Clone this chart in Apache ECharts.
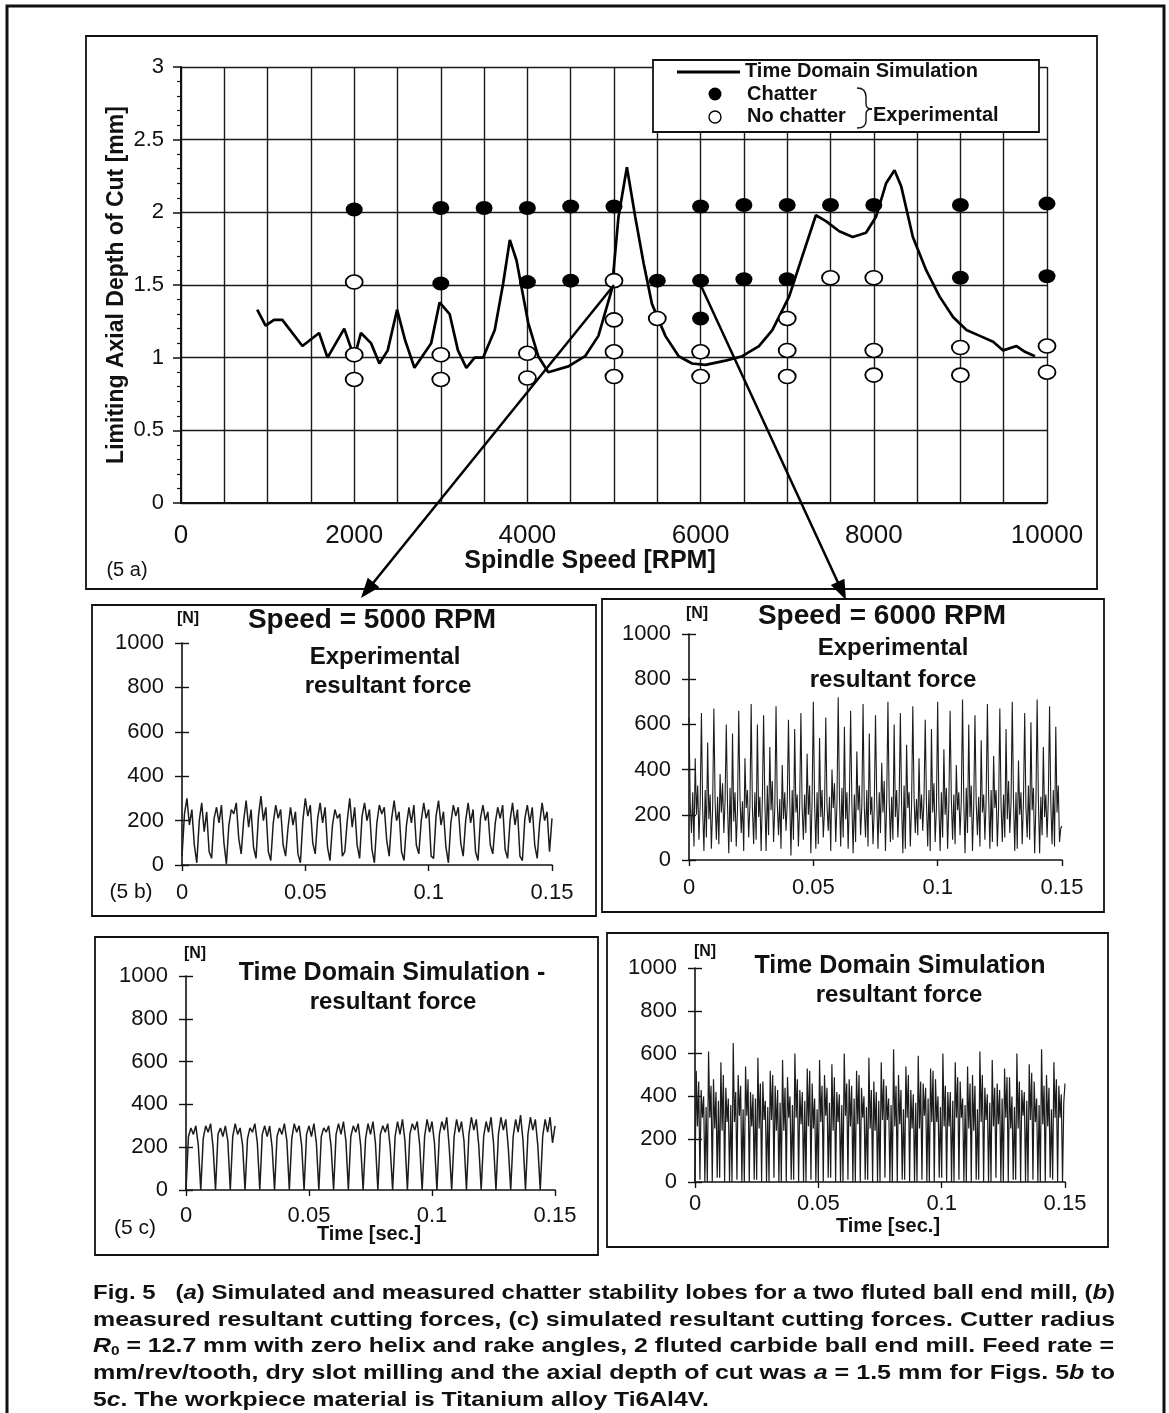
<!DOCTYPE html>
<html><head><meta charset="utf-8">
<script src="https://cdn.jsdelivr.net/npm/echarts@6/dist/echarts.min.js"></script>
<style>html,body{margin:0;padding:0;background:#fff}#c{width:1169px;height:1413px}</style>
</head><body><div id="c"></div>
<script>
// ---------- Fig 5a data ----------
const simRpm = [880, 977, 1074, 1170, 1402, 1595, 1692, 1885, 2001, 2078, 2194, 2291, 2387, 2495, 2588, 2696, 2889, 2986, 3102, 3198, 3295, 3391, 3488, 3623, 3720, 3797, 3874, 4009, 4125, 4241, 4473, 4666, 4820, 4975, 5052, 5149, 5245, 5342, 5438, 5593, 5747, 5902, 6056, 6288, 6481, 6674, 6828, 7022, 7176, 7331, 7447, 7601, 7756, 7910, 8026, 8142, 8239, 8316, 8451, 8606, 8760, 8915, 9070, 9224, 9378, 9494, 9649, 9745, 9861];
const simDepth = [1.33, 1.22, 1.26, 1.26, 1.08, 1.17, 1.00, 1.20, 1.00, 1.17, 1.10, 0.96, 1.05, 1.33, 1.12, 0.93, 1.10, 1.38, 1.30, 1.05, 0.93, 1.00, 1.00, 1.19, 1.51, 1.81, 1.67, 1.24, 1.01, 0.90, 0.94, 1.01, 1.15, 1.47, 1.97, 2.31, 1.97, 1.65, 1.37, 1.15, 1.01, 0.96, 0.95, 0.98, 1.01, 1.08, 1.19, 1.42, 1.70, 1.98, 1.94, 1.87, 1.83, 1.86, 1.97, 2.20, 2.29, 2.18, 1.83, 1.60, 1.42, 1.28, 1.19, 1.15, 1.11, 1.05, 1.08, 1.04, 1.01];
const chatterRpm = [2000, 3000, 3500, 4000, 4500, 5000, 6000, 6500, 7000, 7500, 8000, 9000, 10000, 3000, 4000, 4500, 5500, 6000, 6500, 7000, 9000, 10000, 6000];
const chatterDepth = [2.02, 2.03, 2.03, 2.03, 2.04, 2.04, 2.04, 2.05, 2.05, 2.05, 2.05, 2.05, 2.06, 1.51, 1.52, 1.53, 1.53, 1.53, 1.54, 1.54, 1.55, 1.56, 1.27];
const noChatterRpm = [2000, 2000, 2000, 3000, 3000, 4000, 4000, 5000, 5000, 5000, 5000, 5500, 6000, 6000, 7000, 7000, 7000, 7500, 8000, 8000, 8000, 9000, 9000, 10000, 10000];
const noChatterDepth = [1.52, 1.02, 0.85, 1.02, 0.85, 1.03, 0.86, 1.53, 1.26, 1.04, 0.87, 1.27, 1.04, 0.87, 1.27, 1.05, 0.87, 1.55, 1.55, 1.05, 0.88, 1.07, 0.88, 1.08, 0.90];
const xTickLabels5a = [0, 2000, 4000, 6000, 8000, 10000];

// ---------- Fig 5b / 5c force signals ----------
const DT_5000 = 0.001;   // 5000 RPM records, sampled every 1 ms
const DT_6000 = 0.0005;  // 6000 RPM records, sampled every 0.5 ms
const force5000Exp = [40,230,300,180,250,90, 10,200,280,150,240,60, 30,210,260,190,270,100, 5,180,250,230,280,120, 50,200,290,170,250,80, 30,220,310,200,260,60, 20,190,270,210,250,90, 40,170,260,180,240,50, 10,200,300,220,270,100, 50,210,280,190,260,80, 20,180,250,210,230,40, 60,200,300,170,260,90, 30,220,280,200,250,70, 10,190,270,230,260,110, 40,210,290,200,240,60, 20,180,260,190,270,90, 50,200,280,210,250,40, 30,220,290,180,240,80, 10,190,270,220,260,100, 40,200,280,190,250,60, 20,210,270,200,240,90, 50,190,260,210,270,70, 30,200,280,180,250,40, 20,210,270,190,260,90, 30,190,280,200,240,60, 210];
const force5000Sim = [0,250,290,260,300,210, 0,240,300,270,310,200, 0,260,290,250,300,230, 0,250,310,260,290,210, 0,240,290,270,310,220, 0,260,300,250,300,200, 0,250,290,260,310,230, 0,240,310,270,300,210, 0,260,300,250,310,220, 0,250,290,270,300,200, 0,260,310,260,320,230, 0,250,300,270,310,210, 0,240,310,260,320,220, 0,260,300,270,310,200, 0,250,320,260,330,230, 0,260,310,280,320,210, 0,250,330,270,320,220, 0,260,320,280,340,200, 0,250,330,270,320,230, 0,260,340,280,330,210, 0,250,320,270,340,220, 0,260,340,280,330,200, 0,250,330,270,350,230, 0,260,340,280,330,210, 0,250,330,270,340,220, 300];
const force6000Exp = [
  630,250,120,300,60,450,200,330,90,250, 650,220,40,310,100,520,180,290,50,230,
  670,260,90,280,70,380,210,340,120,260, 600,240,30,320,80,560,170,300,60,220,
  660,280,120,260,40,450,230,310,100,240, 690,230,70,300,90,600,190,280,40,270,
  640,260,40,330,110,500,220,350,80,230, 680,250,110,270,50,420,180,300,130,250,
  620,270,20,310,90,580,210,290,60,240, 650,230,90,290,120,470,200,330,30,260,
  700,260,50,300,70,540,190,310,100,220, 630,240,130,280,40,400,230,340,80,250,
  720,280,60,320,100,590,180,300,50,270, 660,250,30,290,80,480,220,330,110,240,
  690,230,100,310,60,560,200,280,70,230, 640,270,50,300,120,430,210,350,40,260,
  700,260,80,280,90,600,190,310,100,250, 650,240,30,330,50,510,230,300,60,240,
  680,280,120,270,110,450,180,290,130,270, 620,250,60,310,40,580,210,340,80,230,
  700,230,40,300,100,490,200,320,50,250, 660,270,90,290,70,420,220,300,110,260,
  710,260,30,320,120,600,190,330,40,240, 640,250,110,280,60,530,210,290,90,270,
  690,280,50,310,80,460,230,310,60,230, 670,240,80,290,100,580,180,350,120,250,
  700,260,40,300,50,440,200,300,70,260, 650,230,100,330,90,610,220,320,30,240,
  710,270,30,280,110,500,190,290,100,270, 680,250,70,310,60,590,210,330,80,140, 150];
const force6000Sim = [
  0,520,260,470,10,430,300,400,0,350, 0,610,300,450,0,480,250,420,20,380,
  20,560,240,500,0,440,280,390,0,360, 0,650,280,420,10,500,310,450,0,340,
  0,540,310,480,0,420,260,410,10,390, 10,580,250,460,0,470,290,380,0,350,
  0,520,290,500,20,450,240,430,0,370, 0,570,240,440,0,490,300,400,10,360,
  10,600,300,480,0,430,270,420,0,380, 0,530,260,520,10,460,250,390,0,340,
  0,570,280,450,0,500,310,440,20,370, 20,550,240,490,0,420,280,410,0,360,
  0,600,310,460,10,480,260,450,0,390, 0,520,270,500,0,440,300,400,10,350,
  10,580,250,430,0,470,240,420,0,380, 0,560,290,480,20,450,290,390,0,360,
  0,620,260,450,0,500,270,430,10,340, 10,540,300,500,0,430,250,410,0,370,
  0,590,250,470,10,460,310,440,0,390, 0,530,280,520,0,480,280,400,20,350,
  20,600,260,450,0,420,260,420,0,380, 0,560,300,490,10,470,300,390,0,360,
  0,540,250,460,0,500,240,450,10,340, 10,610,280,500,0,440,290,410,0,370,
  0,570,260,440,20,460,270,430,0,390, 0,530,300,490,0,490,250,400,10,350,
  10,600,250,470,0,430,310,420,0,380, 0,550,290,510,10,470,280,390,0,360,
  0,620,270,450,0,500,260,440,20,340, 10,560,300,480,0,450,300,410,0,370, 460];
const forceTicks = [0, 200, 400, 600, 800, 1000];
const timeTicks = [0, 0.05, 0.1, 0.15];

// ---------- build ----------
const FONT = 'Liberation Sans, Arial, Helvetica, sans-serif';
const INK = '#111';
const zip = (xs, ys) => xs.map((x, i) => [x, ys[i]]);
const timed = (vals, dt) => vals.map((v, i) => [+(i * dt).toFixed(5), v]);

const grids = [
  {left: 181, top: 67, width: 866, height: 436},
  {left: 182, top: 643, width: 370, height: 222},
  {left: 689, top: 634, width: 373, height: 226},
  {left: 186, top: 976, width: 369, height: 214},
  {left: 695, top: 968, width: 370, height: 214}
].map(g => Object.assign({containLabel: false, outerBoundsMode: 'none', show: false}, g));

const xAxes = [{
  gridIndex: 0, type: 'value', min: 0, max: 10000, interval: 500,
  axisLine: {show: true, onZero: false, lineStyle: {color: INK, width: 2}},
  axisTick: {show: false},
  splitLine: {show: true, lineStyle: {color: '#1a1a1a', width: 1.4}},
  axisLabel: {color: INK, fontSize: 26, fontFamily: FONT, margin: 20,
    formatter: v => xTickLabels5a.includes(v) ? String(v) : ''}
}];
const yAxes = [{
  gridIndex: 0, type: 'value', min: 0, max: 3, interval: 0.5,
  axisLine: {show: true, onZero: false, lineStyle: {color: INK, width: 2}},
  axisTick: {show: true, length: 8, lineStyle: {color: INK, width: 1.5}},
  minorTick: {show: true, splitNumber: 5, length: 4, lineStyle: {color: INK, width: 1.2}},
  splitLine: {show: true, lineStyle: {color: '#1a1a1a', width: 1.4}},
  axisLabel: {color: INK, fontSize: 22, fontFamily: FONT, margin: 17}
}];
const xLabelMargin = [17, 17, 15, 11];
function subAxes(gi) {
  xAxes.push({
    gridIndex: gi, type: 'value', min: 0, max: 0.15, interval: 0.05,
    axisLine: {show: true, onZero: false, lineStyle: {color: INK, width: 1.6}},
    axisTick: {show: true, length: 6, lineStyle: {color: INK, width: 1.4}},
    splitLine: {show: false},
    axisLabel: {color: INK, fontSize: 22, fontFamily: FONT, margin: xLabelMargin[gi - 1],
      formatter: v => { const r = Math.round(v * 100) / 100; return timeTicks.includes(r) ? String(r) : ''; }}
  });
  yAxes.push({
    gridIndex: gi, type: 'value', min: 0, max: 1000, interval: 200, position: 'left',
    axisLine: {show: true, onZero: false, lineStyle: {color: INK, width: 1.6}},
    axisTick: {show: true, length: 7, lineStyle: {color: INK, width: 1.4}},
    splitLine: {show: false},
    axisLabel: {color: INK, fontSize: 22, fontFamily: FONT, margin: 18,
      formatter: v => forceTicks.includes(v) ? String(v) : ''}
  });
  yAxes.push({
    gridIndex: gi, type: 'value', min: 0, max: 1000, interval: 200, position: 'left', offset: 0,
    axisLine: {show: false}, axisLabel: {show: false}, splitLine: {show: false},
    axisTick: {show: true, inside: true, length: 7, lineStyle: {color: INK, width: 1.4}}
  });
}
[1, 2, 3, 4].forEach(subAxes);

const series = [
  {type: 'line', xAxisIndex: 0, yAxisIndex: 0, data: zip(simRpm, simDepth), showSymbol: false, symbol: 'none',
   lineStyle: {color: '#000', width: 2.7}, z: 3, silent: true, animation: false},
  {type: 'scatter', xAxisIndex: 0, yAxisIndex: 0, data: zip(chatterRpm, chatterDepth), symbol: 'circle', symbolSize: [17, 14],
   itemStyle: {color: '#000', opacity: 1}, z: 4, animation: false},
  {type: 'scatter', xAxisIndex: 0, yAxisIndex: 0, data: zip(noChatterRpm, noChatterDepth), symbol: 'circle', symbolSize: [17, 14],
   itemStyle: {color: '#fff', borderColor: '#000', borderWidth: 1.7, opacity: 1}, z: 4, animation: false}
];
const sigs = [[force5000Exp, DT_5000, 1.5], [force6000Exp, DT_6000, 1.1], [force5000Sim, DT_5000, 1.5], [force6000Sim, DT_6000, 1.2]];
sigs.forEach(([s, dt, w], k) => series.push({
  type: 'line', xAxisIndex: k + 1, yAxisIndex: 1 + k * 2, data: timed(s, dt), showSymbol: false, symbol: 'none',
  lineStyle: {color: '#1c1c1c', width: w}, silent: true, animation: false
}));

// ---------- graphic (frames, titles, legend, caption) ----------
function txt(text, x, y, size, weight, align, extra) {
  return {type: 'text', z: 50, style: Object.assign({
    text, x, y, fontSize: size, fontWeight: weight || 'normal', fontFamily: FONT, fill: INK,
    textAlign: align || 'center', align: align || 'center', textVerticalAlign: 'middle', verticalAlign: 'middle'
  }, extra || {})};
}
function box(x1, y1, x2, y2, w) {
  return {type: 'rect', z: 40, shape: {x: x1, y: y1, width: x2 - x1, height: y2 - y1},
    style: {fill: null, stroke: '#111', lineWidth: w || 2}};
}
function curve(x1, y1, cx, cy, x2, y2) {
  return {type: 'bezierCurve', z: 46, shape: {x1, y1, cpx1: cx, cpy1: cy, x2, y2},
    style: {fill: null, stroke: '#111', lineWidth: 1.4}};
}
const yTitle = txt('Limiting Axial Depth of Cut [mm]', 0, 0, 23, 'bold');
yTitle.x = 117; yTitle.y = 285; yTitle.rotation = Math.PI / 2;

const graphic = [
  box(7, 6, 1164, 1425, 3),
  box(86, 36, 1097, 589, 1.8),
  box(92, 605, 596, 916, 1.8),
  box(602, 599, 1104, 912, 1.8),
  box(95, 937, 598, 1255, 1.8),
  box(607, 933, 1108, 1247, 1.8),
  yTitle,
  txt('Spindle Speed [RPM]', 590, 561, 25, 'bold'),
  txt('(5 a)', 127, 570, 20, 'normal'),
  // legend
  {type: 'rect', z: 45, shape: {x: 653, y: 60, width: 386, height: 72}, style: {fill: '#fff', stroke: '#111', lineWidth: 1.8}},
  {type: 'line', z: 46, shape: {x1: 677, y1: 72, x2: 740, y2: 72}, style: {stroke: '#000', lineWidth: 3.2}},
  txt('Time Domain Simulation', 745, 71, 20, 'bold', 'left'),
  {type: 'circle', z: 46, shape: {cx: 715, cy: 94, r: 6.5}, style: {fill: '#000'}},
  txt('Chatter', 747, 94, 20, 'bold', 'left'),
  {type: 'circle', z: 46, shape: {cx: 715, cy: 117, r: 6}, style: {fill: '#fff', stroke: '#000', lineWidth: 1.4}},
  txt('No chatter', 747, 116, 20, 'bold', 'left'),
  curve(857, 88, 866, 88, 866, 97),
  {type: 'line', z: 46, shape: {x1: 866, y1: 97, x2: 866, y2: 104}, style: {stroke: '#111', lineWidth: 1.4}},
  curve(866, 104, 866, 109, 872, 109),
  curve(872, 109, 866, 109, 866, 114),
  {type: 'line', z: 46, shape: {x1: 866, y1: 114, x2: 866, y2: 121}, style: {stroke: '#111', lineWidth: 1.4}},
  curve(866, 121, 866, 128, 857, 128),
  txt('Experimental', 873, 115, 20, 'bold', 'left'),
  // 5b left
  txt('[N]', 188, 619, 16, 'bold'),
  txt('Speed = 5000 RPM', 372, 620, 28, 'bold'),
  txt('Experimental', 385, 657, 24, 'bold'),
  txt('resultant force', 388, 686, 24, 'bold'),
  txt('(5 b)', 131, 892, 21, 'normal'),
  // 5b right
  txt('[N]', 697, 614, 16, 'bold'),
  txt('Speed = 6000 RPM', 882, 616, 28, 'bold'),
  txt('Experimental', 893, 648, 24, 'bold'),
  txt('resultant force', 893, 680, 24, 'bold'),
  // 5c left
  txt('[N]', 195, 954, 16, 'bold'),
  txt('Time Domain Simulation -', 392, 973, 25, 'bold'),
  txt('resultant force', 393, 1002, 24, 'bold'),
  txt('(5 c)', 135, 1228, 21, 'normal'),
  txt('Time [sec.]', 369, 1234, 20, 'bold'),
  // 5c right
  txt('[N]', 705, 952, 16, 'bold'),
  txt('Time Domain Simulation', 900, 966, 25, 'bold'),
  txt('resultant force', 899, 995, 24, 'bold'),
  txt('Time [sec.]', 888, 1226, 20, 'bold')
];

// caption (each full line stretched to the justified column width)
const CAP_SIZE = 21, CAP_LEFT = 93, CAP_WIDTH = 1022;
const capRich = {
  i: {fontStyle: 'italic', fontWeight: 'bold', fontSize: CAP_SIZE, fontFamily: FONT, color: INK},
  sub: {fontWeight: 'bold', fontSize: 13, fontFamily: FONT, color: INK, padding: [9, 0, 0, 0]}
};
const captionLines = [
  'Fig. 5   ({i|a}) Simulated and measured chatter stability lobes for a two fluted ball end mill, ({i|b})',
  'measured resultant cutting forces, (c) simulated resultant cutting forces. Cutter radius',
  '{i|R}{sub|0} = 12.7 mm with zero helix and rake angles, 2 fluted carbide ball end mill. Feed rate =',
  'mm/rev/tooth, dry slot milling and the axial depth of cut was {i|a} = 1.5 mm for Figs. 5{i|b} to',
  '5{i|c}. The workpiece material is Titanium alloy Ti6Al4V.'
];
const mctx = document.createElement('canvas').getContext('2d');
mctx.font = 'bold ' + CAP_SIZE + 'px ' + FONT;
const plain = l => l.replace(/\{sub\|0\}/, '').replace(/\{\w+\|([^}]*)\}/g, '$1');
const scales = captionLines.map(l => CAP_WIDTH / (mctx.measureText(plain(l)).width + (l.includes('{sub|') ? 8 : 0)));
const avgScale = (scales[0] + scales[1] + scales[2] + scales[3]) / 4;
captionLines.forEach((l, k) => {
  const el = txt(l, 0, 0, CAP_SIZE, 'bold', 'left', {rich: capRich});
  el.x = CAP_LEFT; el.y = 1293 + k * 26.8;
  el.scaleX = k < 4 ? scales[k] : avgScale;
  graphic.push(el);
});

const chart = echarts.init(document.getElementById('c'), null, {renderer: 'canvas'});
chart.setOption({animation: false, backgroundColor: '#fff', grid: grids, xAxis: xAxes, yAxis: yAxes, series, graphic});

// arrows from the 5a test points to the force plots
function arrow(S, E) {
  const dx = E[0] - S[0], dy = E[1] - S[1], L = Math.hypot(dx, dy);
  const ux = dx / L, uy = dy / L, nx = -uy, ny = ux, H = 20, W = 7.5;
  const bx = E[0] - ux * H, by = E[1] - uy * H;
  return [
    {type: 'line', z: 60, shape: {x1: S[0], y1: S[1], x2: bx + ux * 3, y2: by + uy * 3}, style: {stroke: '#000', lineWidth: 2.5}},
    {type: 'polygon', z: 60, shape: {points: [E, [bx + nx * W, by + ny * W], [bx - nx * W, by - ny * W]]}, style: {fill: '#000'}}
  ];
}
const s1 = chart.convertToPixel({gridIndex: 0}, [5000, 1.50]);
const s2 = chart.convertToPixel({gridIndex: 0}, [6000, 1.50]);
chart.setOption({graphic: graphic.concat(arrow(s1, [361, 598]), arrow(s2, [846, 600]))});
</script></body></html>
